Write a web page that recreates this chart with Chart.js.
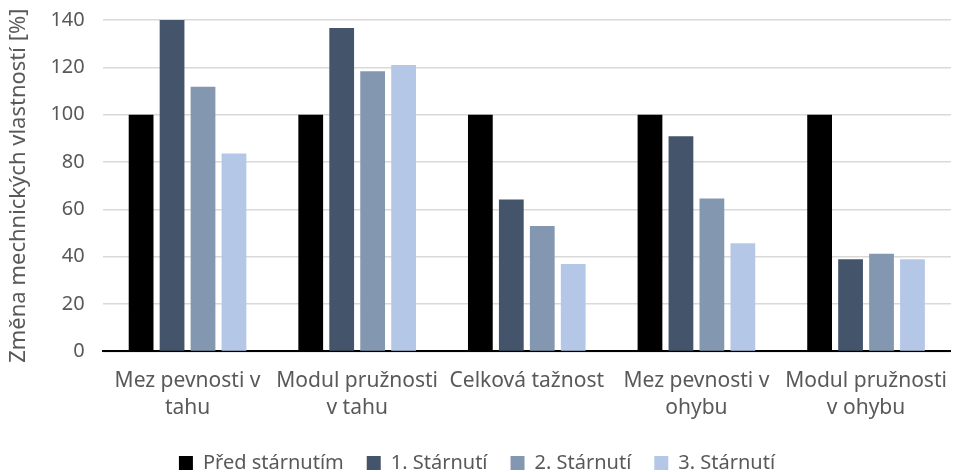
<!DOCTYPE html>
<html>
<head>
<meta charset="utf-8">
<script src="https://cdn.jsdelivr.net/npm/chart.js@4"></script>
<style>
  html, body { margin: 0; padding: 0; background: #fff; }
  #wrap { width: 955px; height: 472px; }
</style>
</head>
<body>
<div id="wrap"><canvas id="graf"></canvas></div>
<script>
// kategorie (popisky osy x, zalomené na dva řádky)
const categories = [
  ['Mez pevnosti v', 'tahu'],
  ['Modul pružnosti', 'v tahu'],
  ['Celková tažnost'],
  ['Mez pevnosti v', 'ohybu'],
  ['Modul pružnosti', 'v ohybu']
];

const seriesNames = ['Před stárnutím', '1. Stárnutí', '2. Stárnutí', '3. Stárnutí'];

const predStarnutim = [100, 100, 100, 100, 100];
const starnuti1 = [140, 136.6, 64.2, 90.9, 38.9];
const starnuti2 = [111.8, 118.4, 53.0, 64.6, 41.2];
const starnuti3 = [83.6, 121.0, 36.9, 45.7, 38.9];

const yTicks = [0, 20, 40, 60, 80, 100, 120, 140];

const colors = ['#000000', '#44546A', '#8497B0', '#B4C7E7'];
const values = [predStarnutim, starnuti1, starnuti2, starnuti3];

const font = "'Noto Sans', 'Open Sans', sans-serif";
const textColor = '#595959';

new Chart(document.getElementById('graf'), {
  type: 'bar',
  data: {
    labels: categories,
    datasets: seriesNames.map((name, i) => ({
      label: name,
      data: values[i],
      backgroundColor: colors[i],
      borderWidth: 0,
      categoryPercentage: 0.73,
      barPercentage: 0.8
    }))
  },
  options: {
    responsive: true,
    maintainAspectRatio: false,
    animation: false,
    layout: { padding: { top: 0, right: 1, left: 0, bottom: -11 } },
    plugins: {
      legend: {
        position: 'bottom',
        labels: {
          boxWidth: 14,
          boxHeight: 14,
          padding: 23,
          color: textColor,
          font: { family: font, size: 20 }
        }
      },
      tooltip: { enabled: false }
    },
    scales: {
      x: {
        grid: { display: false },
        border: { color: '#000', width: 2 },
        ticks: {
          color: textColor,
          padding: 8,
          maxRotation: 0,
          autoSkip: false,
          font: { family: font, size: 21, lineHeight: 1.3 }
        }
      },
      y: {
        min: 0,
        max: 140,
        afterBuildTicks: axis => { axis.ticks = yTicks.map(v => ({ value: v })); },
        grid: { color: '#d9d9d9', lineWidth: 1.5, drawTicks: false },
        border: { display: false },
        ticks: {
          color: textColor,
          padding: 18,
          font: { family: font, size: 20, lineHeight: 0.2 }
        },
        title: {
          display: true,
          text: 'Změna mechnických vlastností [%]',
          color: textColor,
          padding: { top: 6, bottom: 0 },
          font: { family: font, size: 22 }
        }
      }
    }
  }
});
</script>
</body>
</html>
